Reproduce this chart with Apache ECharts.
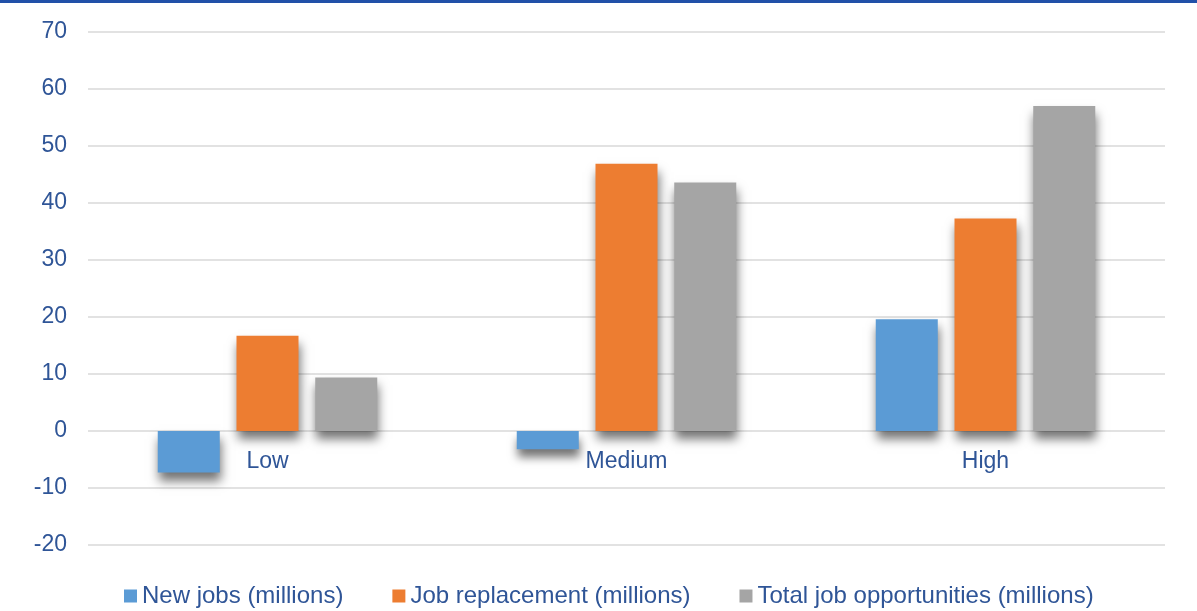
<!DOCTYPE html>
<html>
<head>
<meta charset="utf-8">
<title>Job opportunities by skill level</title>
<script src="https://cdn.jsdelivr.net/npm/echarts@6/dist/echarts.min.js"></script>
<style>
  html, body { margin: 0; padding: 0; background: #ffffff; }
  #chart { width: 1197px; height: 611px; }
</style>
</head>
<body>
<div id="chart"></div>
<script>
// Skill levels along the x axis
var categories = ['Low', 'Medium', 'High'];

// Series values (millions)
var newJobs = [-7.3, -3.2, 19.6];
var jobReplacement = [16.7, 46.9, 37.3];
var totalOpportunities = [9.4, 43.6, 57.0];

var seriesNames = ['New jobs (millions)', 'Job replacement (millions)', 'Total job opportunities (millions)'];
var seriesColors = ['#5B9BD5', '#ED7D31', '#A5A5A5'];

var textBlue = '#2F5597';
var gridGray = '#D9D9D9';
var font = '"Liberation Sans", Arial, sans-serif';

function barSeries(name, data, color) {
  return {
    name: name,
    type: 'bar',
    data: data,
    barWidth: 62,
    barGap: '27%',
    itemStyle: {
      color: color,
      shadowColor: 'rgba(0,0,0,0.55)',
      shadowBlur: 10,
      shadowOffsetX: 1,
      shadowOffsetY: 8
    },
    emphasis: { disabled: true }
  };
}

var chart = echarts.init(document.getElementById('chart'), null, { renderer: 'canvas' });

var option = {
  animation: false,
  backgroundColor: '#ffffff',
  graphic: [{
    type: 'rect',
    left: 0, top: 0,
    shape: { width: 1197, height: 3 },
    style: { fill: '#2150A8' }
  }],
  grid: { left: 88, right: 32, top: 32, bottom: 66 },
  legend: {
    left: 124,
    top: 584,
    padding: 0,
    itemWidth: 13,
    itemHeight: 13,
    itemGap: 49,
    icon: 'rect',
    textStyle: { color: textBlue, fontSize: 24, fontFamily: font },
    data: seriesNames
  },
  xAxis: {
    type: 'category',
    data: categories,
    offset: 0,
    axisLine: { show: false },
    axisTick: { show: false },
    axisLabel: { color: textBlue, fontSize: 23, fontFamily: font, margin: 19 }
  },
  yAxis: {
    type: 'value',
    min: -20,
    max: 70,
    interval: 10,
    axisLine: { show: false },
    axisTick: { show: false },
    splitLine: { lineStyle: { color: gridGray, width: 1.5 } },
    axisLabel: { color: textBlue, fontSize: 23, fontFamily: font, margin: 21, padding: [4, 0, 0, 0] }
  },
  series: [
    barSeries(seriesNames[0], newJobs, seriesColors[0]),
    barSeries(seriesNames[1], jobReplacement, seriesColors[1]),
    barSeries(seriesNames[2], totalOpportunities, seriesColors[2])
  ]
};

chart.setOption(option);

// Category labels sit just under the zero line: shift the x axis up from the grid bottom to y = 0
var zeroY = chart.convertToPixel({ yAxisIndex: 0 }, 0);
var bottomY = chart.convertToPixel({ yAxisIndex: 0 }, option.yAxis.min);
chart.setOption({ xAxis: { offset: -(bottomY - zeroY) } });
</script>
</body>
</html>
